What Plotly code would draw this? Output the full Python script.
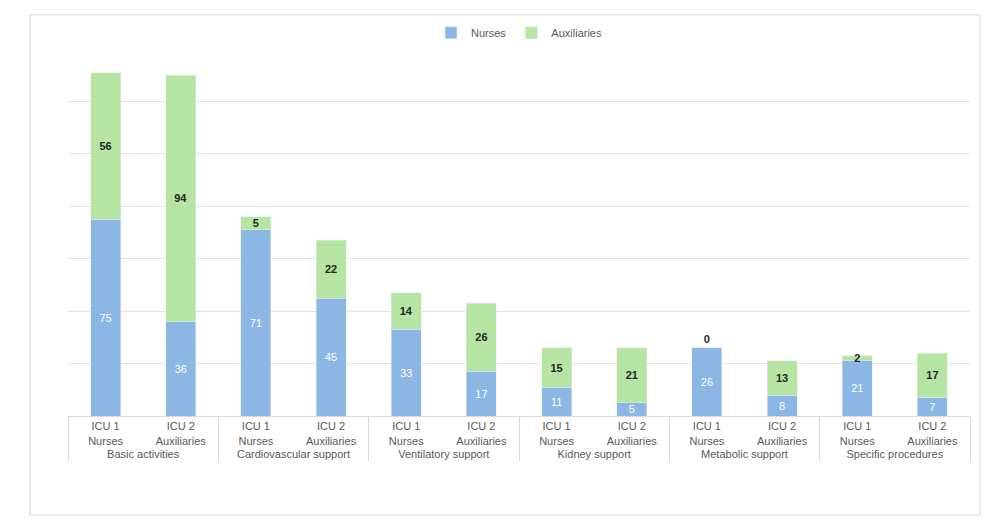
import plotly.graph_objects as go

groups = ["Basic activities", "Cardiovascular support", "Ventilatory support",
          "Kidney support", "Metabolic support", "Specific procedures"]
subs = ["ICU 1<br>Nurses", "ICU 2<br>Auxiliaries"]
nurses = [75, 36, 71, 45, 33, 17, 11, 5, 26, 8, 21, 7]
auxiliaries = [56, 94, 5, 22, 14, 26, 15, 21, 0, 13, 2, 17]

xg, xs = [], []
for g in groups:
    for s in subs:
        xg.append(g); xs.append(s)

fig = go.Figure()
fig.add_trace(go.Bar(x=[xg, xs], y=nurses, name="Nurses", marker_color="#8cb6e4",
                     text=[str(v) for v in nurses], textposition="inside", insidetextanchor="middle",
                     textangle=0, constraintext="none",
                     textfont=dict(color="white", size=11, family="Liberation Sans")))
fig.add_trace(go.Bar(x=[xg, xs], y=auxiliaries, name="Auxiliaries", marker_color="#b5e4a3",
                     text=["<b>%d</b>" % v for v in auxiliaries],
                     textposition=["outside" if v == 0 else "inside" for v in auxiliaries],
                     insidetextanchor="middle", cliponaxis=False, textangle=0, constraintext="none",
                     textfont=dict(color="#262626", size=11, family="Liberation Sans")))

fig.update_layout(
    width=994, height=528, barmode="stack", bargap=0.6,
    plot_bgcolor="white", paper_bgcolor="white",
    margin=dict(l=60, r=32, t=41, b=120, autoexpand=False),
    font=dict(family="Liberation Sans", size=11, color="#595959"),
    legend=dict(orientation="h", x=0.5, xanchor="center", y=1.044, yanchor="middle",
                traceorder="normal", font=dict(size=11), itemwidth=30),
    xaxis=dict(type="multicategory", showline=True, linecolor="#d9d9d9",
               showdividers=True, dividercolor="#d9d9d9", tickfont=dict(size=11)),
    yaxis=dict(range=[0, 140], dtick=20, showticklabels=False, gridcolor="#e3e3e3",
               zeroline=False),
    shapes=[dict(type="rect", xref="paper", yref="paper", x0=-0.042, x1=1.011,
                 y0=-0.27, y1=1.093, line=dict(color="#d9d9d9", width=1))],
)
fig.write_html("out.html")
